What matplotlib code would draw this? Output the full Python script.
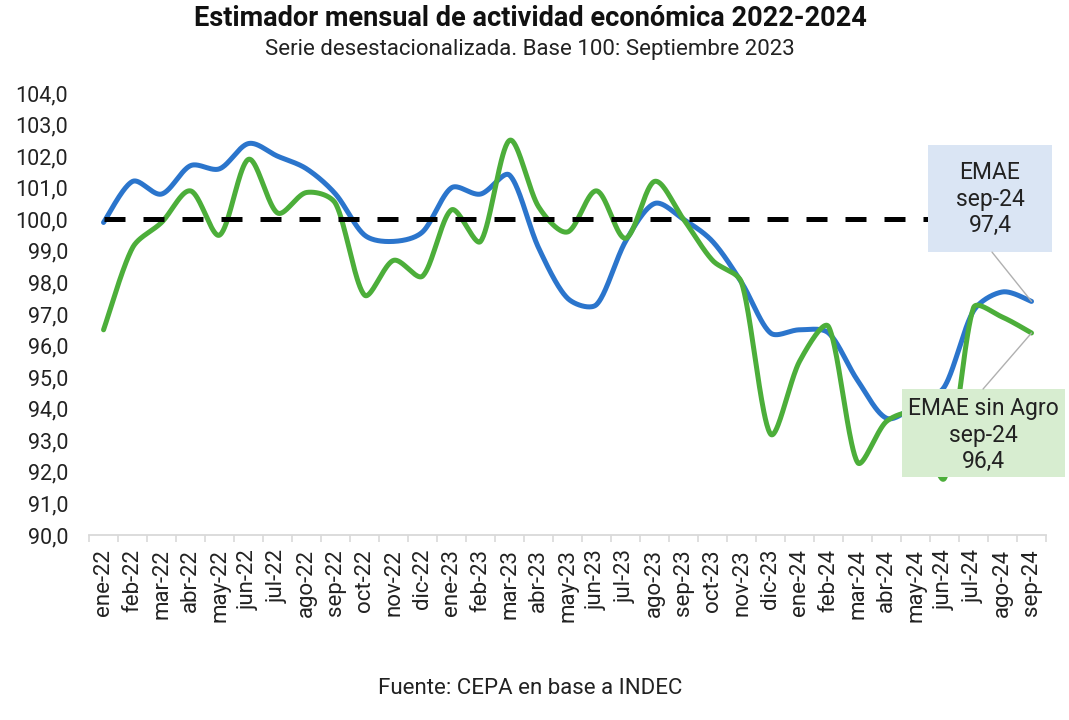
import numpy as np
import matplotlib
matplotlib.use("Agg")
import matplotlib.pyplot as plt
from matplotlib.patches import Rectangle

plt.rcParams['font.family'] = ['Roboto', 'DejaVu Sans']

months = ["ene-22", "feb-22", "mar-22", "abr-22", "may-22", "jun-22", "jul-22", "ago-22", "sep-22",
          "oct-22", "nov-22", "dic-22", "ene-23", "feb-23", "mar-23", "abr-23", "may-23", "jun-23",
          "jul-23", "ago-23", "sep-23", "oct-23", "nov-23", "dic-23", "ene-24", "feb-24", "mar-24",
          "abr-24", "may-24", "jun-24", "jul-24", "ago-24", "sep-24"]

emae = [99.9, 101.2, 100.8, 101.7, 101.6, 102.4, 102.0, 101.6, 100.8,
        99.5, 99.3, 99.6, 101.0, 100.8, 101.4, 99.1, 97.5, 97.3,
        99.3, 100.5, 100.0, 99.3, 98.0, 96.4, 96.5, 96.4, 94.9,
        93.7, 94.1, 94.7, 97.1, 97.7, 97.4]

emae_sin_agro = [96.5, 99.1, 99.9, 100.9, 99.5, 101.9, 100.2, 100.85, 100.5,
                 97.6, 98.7, 98.2, 100.3, 99.3, 102.5, 100.4, 99.6, 100.9,
                 99.4, 101.2, 100.0, 98.7, 98.0, 93.2, 95.5, 96.6, 92.3,
                 93.6, 93.8, 91.8, 97.2, 96.9, 96.4]

base = [100.0] * len(months)

yticks = [90, 91, 92, 93, 94, 95, 96, 97, 98, 99, 100, 101, 102, 103, 104]

# pixel scale of one category / one unit (used only to shape the smoothing like Excel)
SX, SY = 29.0, 31.5


def smooth(xs, ys, n=40):
    # Excel-like smoothed line: Bezier with tension 1/6, tangent damped on short segments
    P = np.column_stack([np.asarray(xs, float) * SX, np.asarray(ys, float) * SY])
    m = len(P)
    out = []
    t = np.linspace(0, 1, n)[:, None]
    for i in range(m - 1):
        p0 = P[i - 1] if i > 0 else P[i]
        p1, p2 = P[i], P[i + 1]
        p3 = P[i + 2] if i + 2 < m else P[i + 1]
        d01 = np.hypot(*(p1 - p0)); d12 = np.hypot(*(p2 - p1)); d23 = np.hypot(*(p3 - p2))
        s1 = min(1.0, 2 * d12 / (d01 + d12)) if d01 > 0 else 1.0
        s2 = min(1.0, 2 * d12 / (d12 + d23)) if d23 > 0 else 1.0
        c1 = p1 + (p2 - p0) / 6.0 * s1
        c2 = p2 - (p3 - p1) / 6.0 * s2
        seg = ((1 - t) ** 3) * p1 + 3 * ((1 - t) ** 2) * t * c1 + 3 * (1 - t) * t ** 2 * c2 + t ** 3 * p2
        out.append(seg if i == 0 else seg[1:])
    out = np.vstack(out)
    return out[:, 0] / SX, out[:, 1] / SY


fig = plt.figure(figsize=(10.69, 7.2), dpi=100)
ax = fig.add_axes([0.0833, 0.2569, 0.8952, 0.6139])

x = np.arange(len(months))
bx, by = smooth(x, emae)
gx, gy = smooth(x, emae_sin_agro)

blue = '#2b75cc'
green = '#4cae3a'
ax.plot(bx, by, color=blue, lw=3.6, solid_capstyle='round', zorder=3)
ax.plot(gx, gy, color=green, lw=3.6, solid_capstyle='round', zorder=4)
ax.plot(x, base, color='black', lw=3.6, dashes=(4.2, 3.6), zorder=5)

ax.set_xlim(-0.5, len(months) - 0.5)
ax.set_ylim(90, 104)
ax.set_yticks(yticks)
ax.set_yticklabels([f"{v:.1f}".replace('.', ',') for v in yticks])
ax.set_xticks(x)
ax.set_xticklabels(months, rotation=90)
ax.set_xticks(np.arange(-0.5, len(months), 1.0), minor=True)

for s in ['top', 'right', 'left']:
    ax.spines[s].set_visible(False)
ax.spines['bottom'].set_color('#d9d9d9')
ax.spines['bottom'].set_linewidth(1.3)
ax.tick_params(axis='y', length=0, pad=15, labelsize=15.5, labelcolor='#222222')
ax.tick_params(axis='x', which='major', length=0, pad=10, labelsize=16, labelcolor='#222222')
ax.tick_params(axis='x', which='minor', length=5, width=1.2, color='#d9d9d9')

# Callout boxes
ax.add_patch(Rectangle((0.8767, 0.6403), 0.1296, 0.2421, transform=ax.transAxes,
                       facecolor='#dae5f4', edgecolor='none', zorder=6, clip_on=False))
ax.annotate('', xy=(x[-1], emae[-1]), xycoords='data', xytext=(0.9436, 0.640),
            textcoords='axes fraction',
            arrowprops=dict(arrowstyle='-', color='#b0b0b0', lw=1.0, shrinkA=0, shrinkB=0), zorder=6)
ax.text(0.9415, 0.760, f"EMAE\nsep-24\n{emae[-1]:.1f}".replace('.', ','), transform=ax.transAxes,
        ha='center', va='center', fontsize=16.5, color='#222222', linespacing=1.2, zorder=7)

ax.add_patch(Rectangle((0.8495, 0.1312), 0.1704, 0.1991, transform=ax.transAxes,
                       facecolor='#d7edd0', edgecolor='none', zorder=6, clip_on=False))
ax.annotate('', xy=(x[-1], emae_sin_agro[-1]), xycoords='data', xytext=(0.9342, 0.3303),
            textcoords='axes fraction',
            arrowprops=dict(arrowstyle='-', color='#b0b0b0', lw=1.0, shrinkA=0, shrinkB=0), zorder=6)
ax.text(0.9342, 0.2262, f"EMAE sin Agro\nsep-24\n{emae_sin_agro[-1]:.1f}".replace('.', ','),
        transform=ax.transAxes, ha='center', va='center', fontsize=16.5, color='#222222',
        linespacing=1.2, zorder=7)

fig.text(530 / 1069, 1 - 18 / 720, "Estimador mensual de actividad económica 2022-2024",
         ha='center', va='center', fontsize=19.5, fontweight='bold', color='#111111')
fig.text(530 / 1069, 1 - 50 / 720, "Serie desestacionalizada. Base 100: Septiembre 2023",
         ha='center', va='center', fontsize=16, color='#222222')
fig.text(530 / 1069, 1 - 688 / 720, "Fuente: CEPA en base a INDEC",
         ha='center', va='center', fontsize=16, color='#222222')

fig.savefig('out.png', dpi=100, facecolor='white')
